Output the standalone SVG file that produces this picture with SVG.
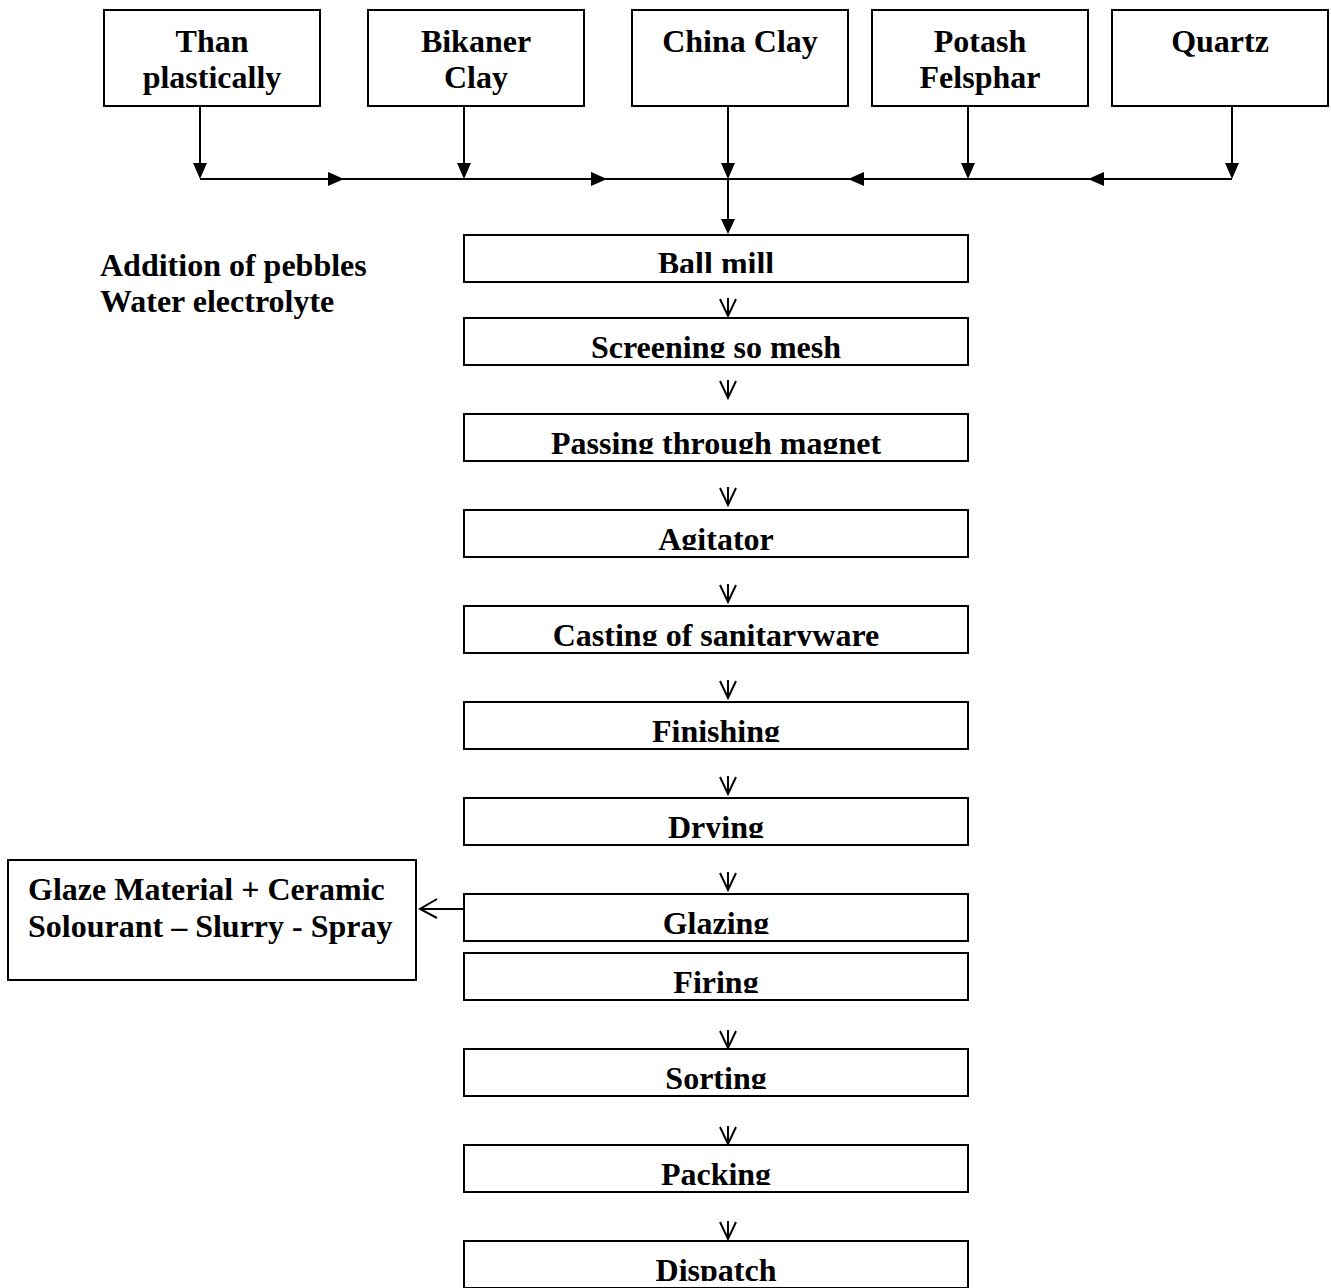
<svg xmlns="http://www.w3.org/2000/svg" width="1331" height="1288" viewBox="0 0 1331 1288">
<style>
.box{fill:#fff;stroke:#000;stroke-width:2}
.t{font-family:"Liberation Serif","Times New Roman",serif;font-weight:bold;font-size:32px;fill:#000}
.c{text-anchor:middle}
.ln{stroke:#000;stroke-width:2;fill:none}
.ah{fill:#000;stroke:none}
</style>
<defs>
<clipPath id="c1"><rect x="464" y="235" width="504" height="38"/></clipPath>
<clipPath id="c2"><rect x="464" y="318" width="504" height="40"/></clipPath>
<clipPath id="c3"><rect x="464" y="414" width="504" height="40"/></clipPath>
<clipPath id="c4"><rect x="464" y="510" width="504" height="40"/></clipPath>
<clipPath id="c5"><rect x="464" y="606" width="504" height="40"/></clipPath>
<clipPath id="c6"><rect x="464" y="702" width="504" height="40"/></clipPath>
<clipPath id="c7"><rect x="464" y="798" width="504" height="40"/></clipPath>
<clipPath id="c8"><rect x="464" y="894" width="504" height="40"/></clipPath>
<clipPath id="c9"><rect x="464" y="953" width="504" height="40"/></clipPath>
<clipPath id="c10"><rect x="464" y="1049" width="504" height="40"/></clipPath>
<clipPath id="c11"><rect x="464" y="1145" width="504" height="40"/></clipPath>
<clipPath id="c12"><rect x="464" y="1241" width="504" height="40"/></clipPath>
</defs>
<rect width="1331" height="1288" fill="#fff"/>

<g id="connectors">
  <line class="ln" x1="200" y1="106" x2="200" y2="164"/><polygon class="ah" points="193,163 207,163 200,179"/>
  <line class="ln" x1="464" y1="106" x2="464" y2="164"/><polygon class="ah" points="457,163 471,163 464,179"/>
  <line class="ln" x1="728" y1="106" x2="728" y2="164"/><polygon class="ah" points="721,163 735,163 728,179"/>
  <line class="ln" x1="968" y1="106" x2="968" y2="164"/><polygon class="ah" points="961,163 975,163 968,179"/>
  <line class="ln" x1="1232" y1="106" x2="1232" y2="164"/><polygon class="ah" points="1225,163 1239,163 1232,179"/>
  <line class="ln" x1="200" y1="179" x2="1232" y2="179"/>
  <polygon class="ah" points="328,172 328,186 344,179"/>
  <polygon class="ah" points="591,172 591,186 607,179"/>
  <polygon class="ah" points="864,172 864,186 848,179"/>
  <polygon class="ah" points="1104,172 1104,186 1088,179"/>
  <line class="ln" x1="728" y1="179" x2="728" y2="220"/><polygon class="ah" points="721,219 735,219 728,234"/>
  <path class="ln" d="M728,298V316M720,299L728,316L736,299"/>
  <path class="ln" d="M728,380V398M720,381L728,398L736,381"/>
  <path class="ln" d="M728,487V505M720,488L728,505L736,488"/>
  <path class="ln" d="M728,584V602M720,585L728,602L736,585"/>
  <path class="ln" d="M728,680V698M720,681L728,698L736,681"/>
  <path class="ln" d="M728,776V794M720,777L728,794L736,777"/>
  <path class="ln" d="M728,872V890M720,873L728,890L736,873"/>
  <path class="ln" d="M728,1030V1048M720,1031L728,1048L736,1031"/>
  <path class="ln" d="M728,1126V1144M720,1127L728,1144L736,1127"/>
  <path class="ln" d="M728,1221V1239M720,1222L728,1239L736,1222"/>
  <path class="ln" d="M464,909H420M437,899L420,909L437,918"/>
</g>

<g id="n-than"><rect class="box" x="104" y="10" width="216" height="96"/><text class="t c" x="212" y="52">Than</text><text class="t c" x="212" y="88">plastically</text></g>
<g id="n-bikaner"><rect class="box" x="368" y="10" width="216" height="96"/><text class="t c" x="476" y="52">Bikaner</text><text class="t c" x="476" y="88">Clay</text></g>
<g id="n-china"><rect class="box" x="632" y="10" width="216" height="96"/><text class="t c" x="740" y="52">China Clay</text></g>
<g id="n-potash"><rect class="box" x="872" y="10" width="216" height="96"/><text class="t c" x="980" y="52">Potash</text><text class="t c" x="980" y="88">Felsphar</text></g>
<g id="n-quartz"><rect class="box" x="1112" y="10" width="216" height="96"/><text class="t c" x="1220" y="52">Quartz</text></g>

<g id="n-addition"><text class="t" x="100" y="276">Addition of pebbles</text><text class="t" x="100" y="312">Water electrolyte</text></g>

<g id="n-ballmill"><rect class="box" x="464" y="235" width="504" height="47"/><text class="t c" x="716" y="274" clip-path="url(#c1)">Ball mill</text></g>
<g id="n-screening"><rect class="box" x="464" y="318" width="504" height="47"/><text class="t c" x="716" y="358" clip-path="url(#c2)">Screening so mesh</text></g>
<g id="n-magnet"><rect class="box" x="464" y="414" width="504" height="47"/><text class="t c" x="716" y="454" clip-path="url(#c3)">Passing through magnet</text></g>
<g id="n-agitator"><rect class="box" x="464" y="510" width="504" height="47"/><text class="t c" x="716" y="550" clip-path="url(#c4)">Agitator</text></g>
<g id="n-casting"><rect class="box" x="464" y="606" width="504" height="47"/><text class="t c" x="716" y="646" clip-path="url(#c5)">Casting of sanitaryware</text></g>
<g id="n-finishing"><rect class="box" x="464" y="702" width="504" height="47"/><text class="t c" x="716" y="742" clip-path="url(#c6)">Finishing</text></g>
<g id="n-drying"><rect class="box" x="464" y="798" width="504" height="47"/><text class="t c" x="716" y="838" clip-path="url(#c7)">Drying</text></g>
<g id="n-glazing"><rect class="box" x="464" y="894" width="504" height="47"/><text class="t c" x="716" y="934" clip-path="url(#c8)">Glazing</text></g>
<g id="n-firing"><rect class="box" x="464" y="953" width="504" height="47"/><text class="t c" x="716" y="993" clip-path="url(#c9)">Firing</text></g>
<g id="n-sorting"><rect class="box" x="464" y="1049" width="504" height="47"/><text class="t c" x="716" y="1089" clip-path="url(#c10)">Sorting</text></g>
<g id="n-packing"><rect class="box" x="464" y="1145" width="504" height="47"/><text class="t c" x="716" y="1185" clip-path="url(#c11)">Packing</text></g>
<g id="n-dispatch"><rect class="box" x="464" y="1241" width="504" height="47"/><text class="t c" x="716" y="1281" clip-path="url(#c12)">Dispatch</text></g>

<g id="n-glaze"><rect class="box" x="8" y="860" width="408" height="120"/><text class="t" x="28" y="900">Glaze Material + Ceramic</text><text class="t" x="28" y="937">Solourant – Slurry - Spray</text></g>
</svg>
